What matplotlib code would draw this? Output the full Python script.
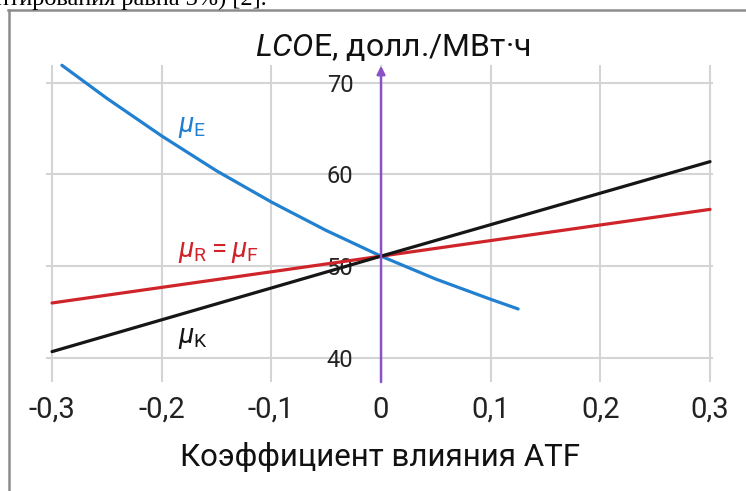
import matplotlib
matplotlib.use("Agg")
import matplotlib.pyplot as plt
from matplotlib.lines import Line2D

plt.rcParams['font.family'] = ['Roboto', 'DejaVu Sans']
plt.rcParams['mathtext.fontset'] = 'custom'
plt.rcParams['mathtext.rm'] = 'Roboto'
plt.rcParams['mathtext.it'] = 'Roboto:italic'
plt.rcParams['mathtext.bf'] = 'Roboto:bold'

# data
atf = [-0.3, 0.0, 0.3]
mu_rf = [46.0, 51.1, 56.2]
mu_k = [40.7, 51.1, 61.4]
atf_e = [-0.291, -0.25, -0.2, -0.15, -0.1, -0.05, 0.0, 0.05, 0.1, 0.125]
mu_e = [71.9, 68.3, 64.2, 60.4, 57.0, 53.9, 51.1, 48.6, 46.4, 45.35]

xticks = [-0.3, -0.2, -0.1, 0, 0.1, 0.2, 0.3]
xticklabels = ['-0,3', '-0,2', '-0,1', '0', '0,1', '0,2', '0,3']
yticks = [40, 50, 60, 70]
yticklabels = ['40', '50', '60', '70']

blue = '#2280d0'
red = '#d0242b'
black = '#161616'
purple = '#8b52c6'
grid_c = '#d4d4d4'

fig = plt.figure(figsize=(7.46, 4.91), dpi=100)
ax = fig.add_axes([46 / 746, 1 - 382 / 491, 667 / 746, 317 / 491])

ax.set_xlim(-0.3055, 0.3027)
ax.set_ylim(37.39, 71.93)

ax.plot(atf_e, mu_e, color=blue, lw=2.3, zorder=3, clip_on=False,
        solid_capstyle='round', solid_joinstyle='round')
ax.plot(atf, mu_rf, color=red, lw=2.3, zorder=3, solid_capstyle='round')
ax.plot(atf, mu_k, color=black, lw=2.3, zorder=3, solid_capstyle='round')

# vertical axis arrow at x = 0
ax.annotate('', xy=(0, 71.85), xytext=(0, 37.39),
            arrowprops=dict(arrowstyle='-|>', color=purple, lw=1.8,
                            mutation_scale=12, shrinkA=0, shrinkB=0),
            zorder=4, annotation_clip=False)

ax.set_xticks(xticks)
ax.set_xticklabels(xticklabels)
ax.set_yticks(yticks)
ax.set_yticklabels(yticklabels)
ax.grid(True, color=grid_c, lw=1.5)
ax.set_axisbelow(True)
for s in ax.spines.values():
    s.set_visible(False)
ax.spines['left'].set_position(('data', 0))
ax.tick_params(axis='x', length=0, pad=10, labelsize=21, labelcolor='#222222')
ax.tick_params(axis='y', length=0, pad=20, labelsize=17, labelcolor='#222222')

ax.text(-0.185, 64.6, r'$\mu_{\mathrm{E}}$', color=blue, fontsize=20, ha='left', va='baseline')
ax.text(-0.185, 51.0, r'$\mu_{\mathrm{R}}{=}\mu_{\mathrm{F}}$', color=red, fontsize=20,
        ha='left', va='baseline')
ax.text(-0.185, 41.6, r'$\mu_{\mathrm{K}}$', color=black, fontsize=20, ha='left', va='baseline')

fig.text(393 / 746, 1 - 56 / 491, r'$\mathit{LCO}$E, долл./МВт·ч', fontsize=23,
         ha='center', va='baseline', color='#111111')
fig.text(380 / 746, 1 - 466 / 491, 'Коэффициент влияния ATF', fontsize=22.5,
         ha='center', va='baseline', color='#111111')

# scanned page: cut-off text line and frame
fig.text(-4 / 746, 1 - 5 / 491, 'нтирования равна 3%) [2].', fontsize=17.5,
         family='Liberation Serif', ha='left', va='baseline', color='black')
fig.add_artist(Line2D([9 / 746, 9 / 746], [0, 1 - 10 / 491], color='#8c8c8c', lw=1.8))
fig.add_artist(Line2D([8 / 746, 1], [1 - 10 / 491, 1 - 10 / 491], color='#8c8c8c', lw=1.8))

fig.savefig('out.png', dpi=100)
